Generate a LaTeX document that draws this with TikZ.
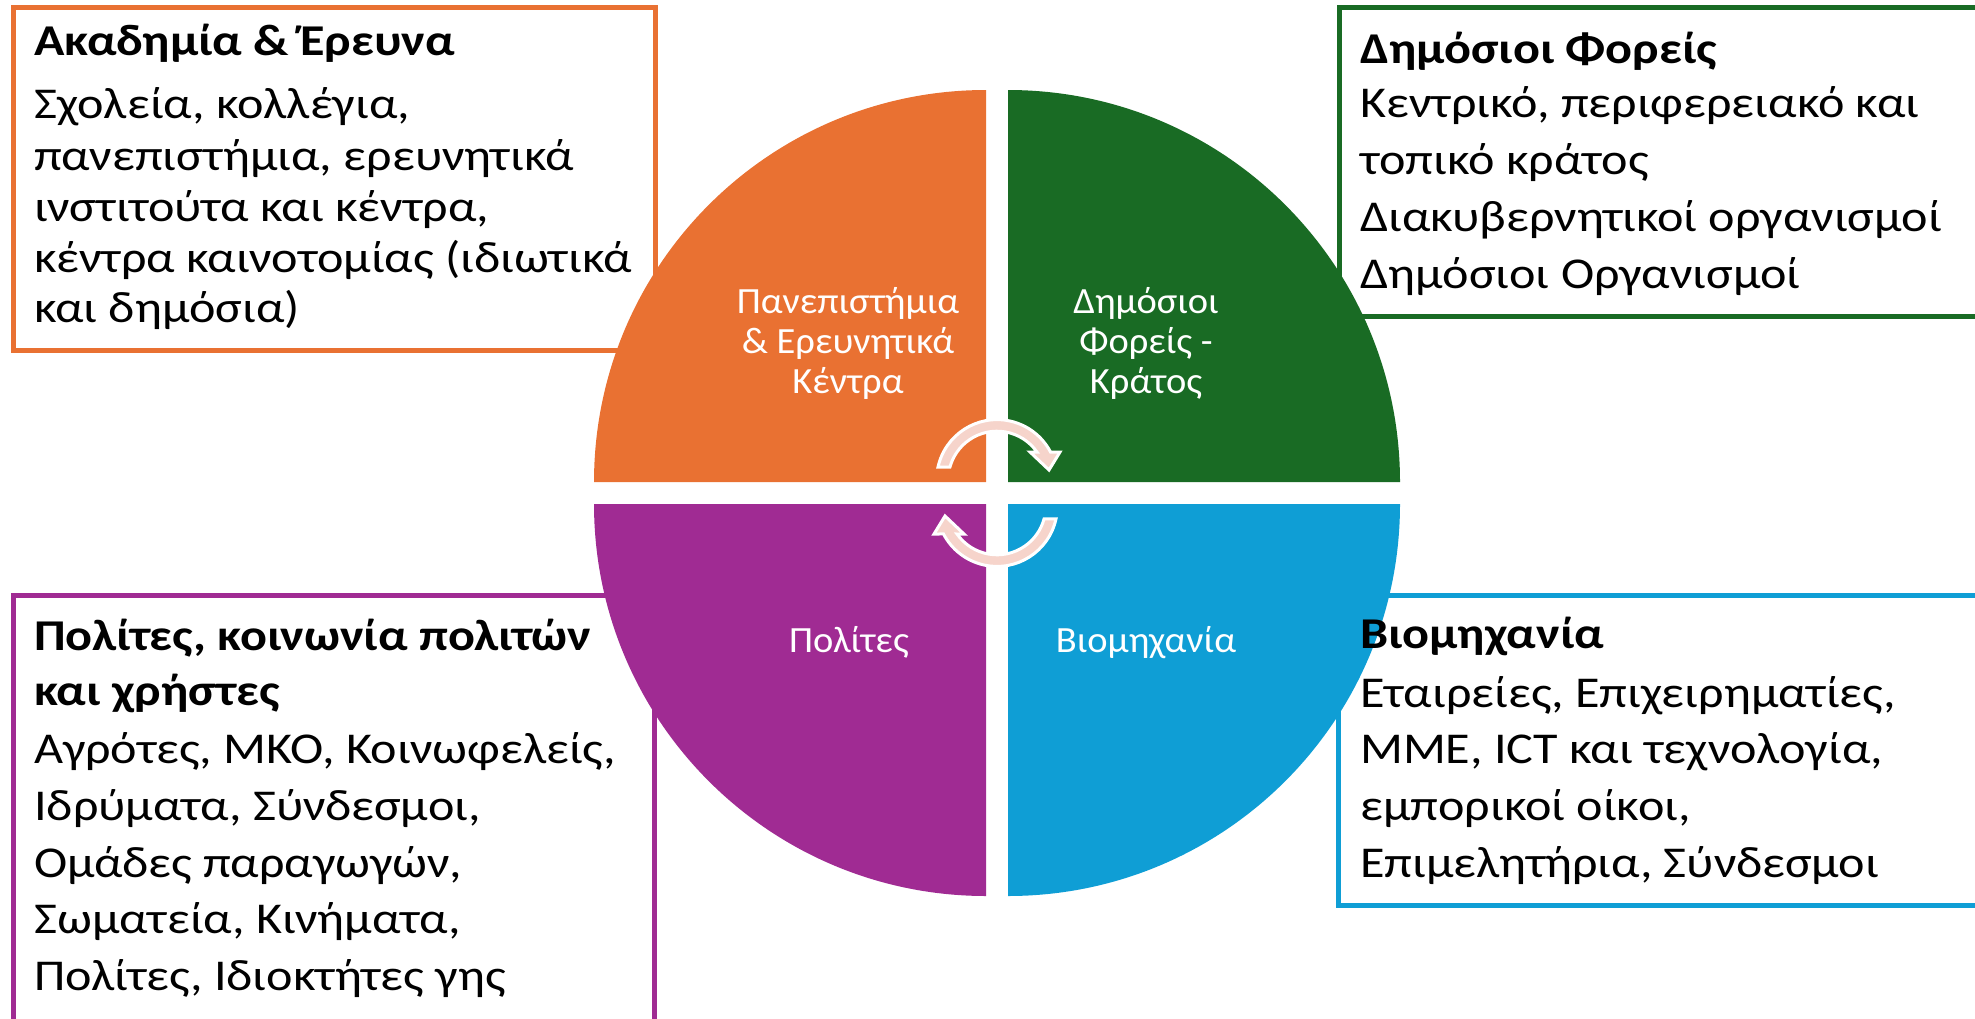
\documentclass[tikz,border=0pt]{standalone}
\usepackage{fontspec}
\setmainfont{Carlito}
\newfontfamily\boxfont[FakeStretch=1.14]{Carlito}
\newfontfamily\labelfont[FakeStretch=1.04]{Carlito}
\definecolor{qorange}{HTML}{E97132}
\definecolor{qgreen}{HTML}{196B24}
\definecolor{qblue}{HTML}{0F9ED5}
\definecolor{qpurple}{HTML}{A02B93}
\definecolor{qpink}{RGB}{246,212,203}
\begin{document}
\begin{tikzpicture}[x=1pt,y=-1pt,
  boxframe/.style={draw=#1,line width=5pt,fill=white},
  boxtitle/.style={anchor=base west,inner sep=0pt,font={\boxfont\fontsize{44}{52}\selectfont\bfseries}},
  boxline/.style={anchor=base west,inner sep=0pt,font={\boxfont\fontsize{44}{52}\selectfont}},
  qlabel/.style={anchor=base,inner sep=0pt,text=white,font={\labelfont\fontsize{37}{43}\selectfont}},
  cyclearrow/.style={fill=qpink,draw=white,line width=3pt,line join=miter}]
\useasboundingbox (0,0) rectangle (1975,1018);
\clip (0,0) rectangle (1975,1018);

% boxes
\draw[boxframe=qorange] (13.5,7.5) rectangle (655,350);
\draw[boxframe=qgreen] (1339,7.5) rectangle (2000,316.5);
\draw[boxframe=qpurple] (13.5,595.5) rectangle (654,1040);
\draw[boxframe=qblue] (1338,595.5) rectangle (2000,905);

% purple box text (under the quadrant)
\node[boxtitle] (p0) at (34,650) {Πολίτες, κοινωνία πολιτών};
\node[boxtitle] (p1) at (34,705) {και χρήστες};
\node[boxline] (p2) at (34,763) {Αγρότες, ΜΚΟ, Κοινωφελείς,};
\node[boxline] (p3) at (34,820) {Ιδρύματα, Σύνδεσμοι,};
\node[boxline] (p4) at (34,877) {Ομάδες παραγωγών,};
\node[boxline] (p5) at (34,933) {Σωματεία, Κινήματα,};
\node[boxline] (p6) at (34,990) {Πολίτες, Ιδιοκτήτες γης};

% quadrants
\fill[qorange] (986,482) -- (594,482) arc[start angle=180,end angle=270,radius=392] -- cycle;
\fill[qgreen] (1008,482) -- (1008,90) arc[start angle=270,end angle=360,radius=392] -- cycle;
\fill[qpurple] (986,504) -- (594,504) arc[start angle=180,end angle=90,radius=392] -- cycle;
\fill[qblue] (1008,504) -- (1400,504) arc[start angle=0,end angle=90,radius=392] -- cycle;

% quadrant labels
\node[qlabel] (l1a) at (848,313) {Πανεπιστήμια};
\node[qlabel] (l1b) at (848,353) {\& Ερευνητικά};
\node[qlabel] (l1c) at (848,393) {Κέντρα};
\node[qlabel] (l2a) at (1146,313) {Δημόσιοι};
\node[qlabel] (l2b) at (1146,353) {Φορείς -};
\node[qlabel] (l2c) at (1146,393) {Κράτος};
\node[qlabel] (l3) at (849,652) {Πολίτες};
\node[qlabel] (l4) at (1146,652) {Βιομηχανία};

% cycle arrows
\coordinate (c1) at (997,480);
\coordinate (c2) at (997,506);
\filldraw[cyclearrow] ([shift={(-167.6:60.4)}]c1) arc[start angle=-167.6,end angle=-27.6,radius=60.4]
  -- (1060,452) -- (1049,470) -- (1030,452) -- ([shift={(-35:48.8)}]c1)
  arc[start angle=-35,end angle=-164.6,radius=48.8] -- cycle;
\filldraw[cyclearrow] ([shift={(12.4:60.4)}]c2) arc[start angle=12.4,end angle=152.4,radius=60.4]
  -- (934,534) -- (945,516) -- (964,534) -- ([shift={(145:48.8)}]c2)
  arc[start angle=145,end angle=15.4,radius=48.8] -- cycle;

% orange box text
\node[boxtitle] (o0) at (34,55) {Ακαδημία \& Έρευνα};
\node[boxline] (o1) at (34,118) {Σχολεία, κολλέγια,};
\node[boxline] (o2) at (34,170) {πανεπιστήμια, ερευνητικά};
\node[boxline] (o3) at (34,221) {ινστιτούτα και κέντρα,};
\node[boxline] (o4) at (34,272) {κέντρα καινοτομίας (ιδιωτικά};
\node[boxline] (o5) at (34,322) {και δημόσια)};

% green box text
\node[boxtitle] (g0) at (1360,63) {Δημόσιοι Φορείς};
\node[boxline] (g1) at (1360,117) {Κεντρικό, περιφερειακό και};
\node[boxline] (g2) at (1360,174) {τοπικό κράτος};
\node[boxline] (g3) at (1360,231) {Διακυβερνητικοί οργανισμοί};
\node[boxline] (g4) at (1360,288) {Δημόσιοι Οργανισμοί};

% blue box text
\node[boxtitle] (b0) at (1360,648) {Βιομηχανία};
\node[boxline] (b1) at (1360,707) {Εταιρείες, Επιχειρηματίες,};
\node[boxline] (b2) at (1360,763) {ΜΜΕ, ICT και τεχνολογία,};
\node[boxline] (b3) at (1360,820) {εμπορικοί οίκοι,};
\node[boxline] (b4) at (1360,877) {Επιμελητήρια, Σύνδεσμοι};
\end{tikzpicture}
\end{document}
